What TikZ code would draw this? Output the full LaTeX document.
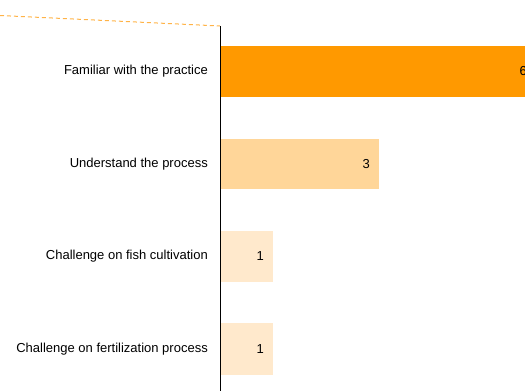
\documentclass[tikz,border=0pt]{standalone}
\usepackage{fontspec}
\setmainfont{Liberation Sans}
\definecolor{barA}{HTML}{FF9900}
\definecolor{barB}{HTML}{FFD699}
\definecolor{barC}{HTML}{FFE9CC}
\definecolor{dashc}{HTML}{FFB347}
\begin{document}
\begin{tikzpicture}[x=1pt,y=-1pt,
  lbl/.style={anchor=east,inner sep=0pt,font=\fontsize{13}{15}\selectfont},
  val/.style={anchor=east,inner sep=0pt,font=\fontsize{13}{15}\selectfont},
  bar/.style={draw=none}]
\useasboundingbox (0,0) rectangle (525,391);
\clip (0,0) rectangle (525,391);
% bars
\fill[barA] (221,46) rectangle (536,97);
\fill[barB] (221,139) rectangle (379,189);
\fill[barC] (221,231) rectangle (273,282);
\fill[barC] (221,323) rectangle (273,375);
% axis
\coordinate (atop) at (220,26);
\coordinate (abot) at (220,391);
\coordinate (dl) at (0,15.5);
\draw[black,line width=1pt] (atop) -- (abot);
\draw[dashc,line width=1pt,dash pattern=on 4pt off 3pt] (dl) -- (atop);
% labels
\node[lbl] (l1) at (208,71.5) {Familiar with the practice};
\node[lbl] (l2) at (208,164) {Understand the process};
\node[lbl] (l3) at (208,256.5) {Challenge on fish cultivation};
\node[lbl] (l4) at (208,349) {Challenge on fertilization process};
% values
\node[val] (v1) at (527,71.5) {6};
\node[val] (v2) at (370,164) {3};
\node[val] (v3) at (264,256.5) {1};
\node[val] (v4) at (264,349) {1};
\end{tikzpicture}
\end{document}
